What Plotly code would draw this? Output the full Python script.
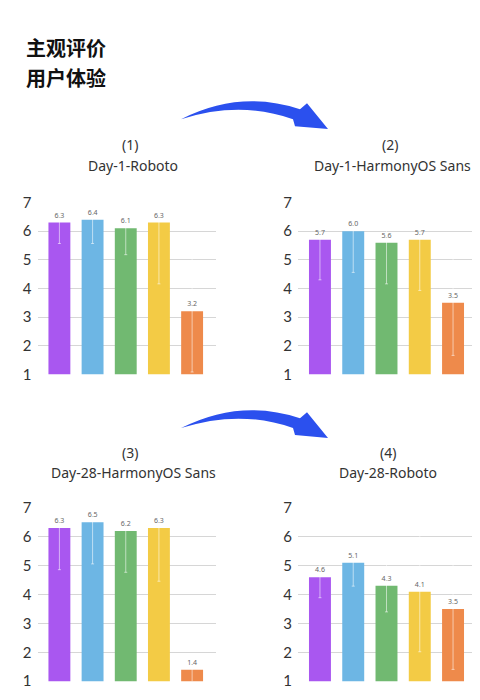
import plotly.graph_objects as go

# page body has an 8px margin, so the figure is sized to fit inside the 480x700 window
OFF_X = 8
W, H = 464, 684
# measured vertical mapping of the photographed page: y_shot = SY * y_fig + OY
SY, OY = 0.977, 16.5

# ---------------- data ----------------
categories = ["指标1", "指标2", "指标3", "指标4", "指标5"]
panel_numbers = ["(1)", "(2)", "(3)", "(4)"]
panel_names = ["Day-1-Roboto", "Day-1-HarmonyOS Sans", "Day-28-HarmonyOS Sans", "Day-28-Roboto"]
values_p1 = [6.3, 6.4, 6.1, 6.3, 3.2]
values_p2 = [5.7, 6.0, 5.6, 5.7, 3.5]
values_p3 = [6.3, 6.5, 6.2, 6.3, 1.4]
values_p4 = [4.6, 5.1, 4.3, 4.1, 3.5]
errors_p1 = [0.73, 0.83, 0.92, 2.14, 2.12]
errors_p2 = [1.40, 1.44, 1.44, 1.77, 1.84]
errors_p3 = [1.44, 1.44, 1.43, 1.84, 0.50]
errors_p4 = [0.71, 0.81, 0.90, 2.08, 2.09]
y_ticks = [1, 2, 3, 4, 5, 6, 7]
bar_colors = ["#a957f0", "#6db6e4", "#71b971", "#f3cb45", "#ee8a4b"]
title_lines = ["主观评价", "用户体验"]

values = [values_p1, values_p2, values_p3, values_p4]
errors = [errors_p1, errors_p2, errors_p3, errors_p4]


def px_x(x):
    return min(1.0, (x - OFF_X) / W)


def px_y(y):
    return 1 - ((y - OY) / SY) / H


# panel geometry in window pixels: (x0, x1, y_top(7), y_bottom(1))
panels = [
    (37.5, 216, 201.7, 374),
    (298, 477, 201.7, 374),
    (37.5, 216, 508, 682),
    (298, 477, 508, 682),
]
title_pos = [
    ((130, 143), (133, 165)),
    ((390, 143), (392, 165)),
    ((130, 452), (133, 473)),
    ((388, 452), (388, 473)),
]

fig = go.Figure()
layout = dict(
    width=W, height=H,
    margin=dict(l=0, r=0, t=0, b=0),
    paper_bgcolor="white", plot_bgcolor="white",
    showlegend=False, bargap=0.34,
    font=dict(family="Noto Sans, Lato, sans-serif", color="#333"),
)

for i in range(4):
    xa = "x" if i == 0 else f"x{i+1}"
    ya = "y" if i == 0 else f"y{i+1}"
    x0, x1, yt, yb = panels[i]
    # keep the category spacing identical even when the right panel is clipped by the window
    span = 4.72 + 0.66
    right = -0.66 + span * (min(x1, OFF_X + W) - x0) / (x1 - x0)
    fig.add_trace(go.Bar(
        x=categories, y=values[i],
        marker=dict(color=bar_colors, line=dict(width=0)),
        error_y=dict(type="data", array=errors[i], color="rgba(255,255,255,0.55)",
                     thickness=1, width=1.5),
        text=values[i], texttemplate="%{y:.1f}", textposition="outside",
        textfont=dict(size=7, color="#666"),
        xaxis=xa, yaxis=ya, hoverinfo="skip",
    ))
    key = "" if i == 0 else str(i + 1)
    layout["xaxis" + key] = dict(
        domain=[px_x(x0), px_x(x1)], anchor=ya, range=[-0.66, right],
        showticklabels=False, showgrid=False, zeroline=False, showline=False,
        ticks="", fixedrange=True,
    )
    layout["yaxis" + key] = dict(
        domain=[px_y(yb), px_y(yt)], anchor=xa, range=[1, 7],
        tickvals=y_ticks, showgrid=True, gridcolor="#d6d6d6", gridwidth=1,
        zeroline=False, showline=False, ticks="",
        tickfont=dict(size=15, color="#333", family="Lato, Noto Sans, sans-serif"),
        ticklabelstandoff=5, fixedrange=True,
    )

annotations = []
for i in range(4):
    (nx, ny), (tx, ty) = title_pos[i]
    annotations.append(dict(text=panel_numbers[i], x=px_x(nx), y=px_y(ny), xref="paper", yref="paper",
                            showarrow=False, xanchor="center", yanchor="middle",
                            font=dict(size=14, color="#333")))
    annotations.append(dict(text=panel_names[i], x=px_x(tx), y=px_y(ty), xref="paper", yref="paper",
                            showarrow=False, xanchor="center", yanchor="middle",
                            font=dict(size=14, color="#333")))
for j, line in enumerate(title_lines):
    annotations.append(dict(text=f"<b>{line}</b>", x=px_x(24), y=px_y(46 + 30 * j), xref="paper",
                            yref="paper", showarrow=False, xanchor="left", yanchor="middle",
                            font=dict(size=20, color="#111", family="Noto Sans CJK SC")))
layout["annotations"] = annotations


def arrow_path(dy):
    pts = [
        ("M", [(181, 118)]),
        ("Q", [(240, 88), (300, 108)]),
        ("L", [(307, 102)]),
        ("L", [(328, 128)]),
        ("L", [(295, 125)]),
        ("L", [(293, 118)]),
        ("Q", [(240, 99), (181, 118)]),
    ]
    s = ""
    for cmd, ps in pts:
        s += cmd + " " + " ".join(f"{px_x(x):.5f},{px_y(y + dy):.5f}" for x, y in ps) + " "
    return s + "Z"


layout["shapes"] = [
    dict(type="path", path=arrow_path(0), xref="paper", yref="paper",
         fillcolor="#2b50ee", line=dict(width=0)),
    dict(type="path", path=arrow_path(310), xref="paper", yref="paper",
         fillcolor="#2b50ee", line=dict(width=0)),
]

fig.update_layout(**layout)
fig.write_html("out.html", config={"displayModeBar": False})
